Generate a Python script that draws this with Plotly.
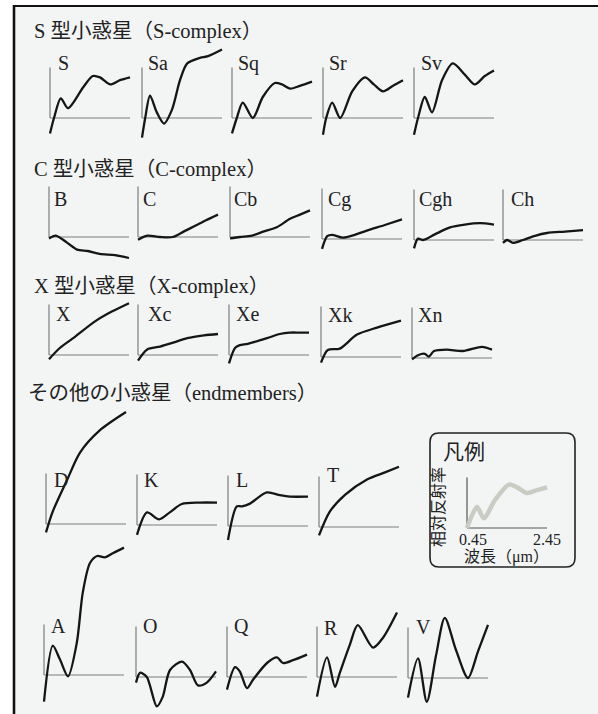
import plotly.graph_objects as go

# ---------------------------------------------------------------------------
# Asteroid reflectance spectra (Bus-DeMeo classes)
# wavelength in µm, reflectance normalised to 1.0 at 0.55 µm
# ---------------------------------------------------------------------------
S_TYPES = ["S", "Sa", "Sq", "Sr", "Sv"]
C_TYPES = ["B", "C", "Cb", "Cg", "Cgh", "Ch"]
X_TYPES = ["X", "Xc", "Xe", "Xk", "Xn"]
END_TYPES_UPPER = ["D", "K", "L", "T"]
END_TYPES_LOWER = ["A", "O", "Q", "R", "V"]

GROUP_TITLES = [
    "S 型小惑星（S-complex）",
    "C 型小惑星（C-complex）",
    "X 型小惑星（X-complex）",
    "その他の小惑星（endmembers）",
]

LEGEND_TITLE = "凡例"
LEGEND_YLABEL = "相対反射率"
LEGEND_XLABEL = "波長（μm）"
LEGEND_TICKS = ["0.45", "2.45"]

WL_MIN, WL_MAX = 0.45, 2.45
AXIS_TOP = 1.36
BASE = 1.0

wl_S = [0.45, 0.55, 0.72, 0.90, 1.28, 1.52, 1.70, 1.95, 2.20, 2.45]
rf_S = [0.89, 1.00, 1.14, 1.07, 1.22, 1.30, 1.29, 1.24, 1.27, 1.29]
wl_Sa = [0.45, 0.53, 0.65, 0.82, 1.00, 1.20, 1.40, 1.58, 1.90, 2.08, 2.45]
rf_Sa = [0.86, 1.00, 1.16, 1.04, 0.96, 1.06, 1.27, 1.39, 1.43, 1.44, 1.49]
wl_Sq = [0.45, 0.57, 0.72, 0.97, 1.22, 1.52, 1.70, 1.90, 2.15, 2.45]
rf_Sq = [0.89, 1.00, 1.11, 1.00, 1.15, 1.25, 1.24, 1.21, 1.23, 1.26]
wl_Sr = [0.45, 0.53, 0.68, 0.88, 1.18, 1.50, 1.72, 1.95, 2.20, 2.45]
rf_Sr = [0.88, 1.00, 1.11, 1.00, 1.19, 1.29, 1.24, 1.19, 1.23, 1.27]
wl_Sv = [0.45, 0.55, 0.72, 0.90, 1.15, 1.42, 1.72, 1.97, 2.22, 2.45]
rf_Sv = [0.88, 1.00, 1.15, 1.04, 1.27, 1.39, 1.31, 1.24, 1.30, 1.34]

wl_B = [0.45, 0.62, 0.90, 1.15, 1.42, 1.72, 2.10, 2.45]
rf_B = [0.99, 1.01, 0.96, 0.91, 0.90, 0.88, 0.87, 0.85]
wl_C = [0.45, 0.68, 1.00, 1.32, 1.60, 1.88, 2.15, 2.45]
rf_C = [0.98, 1.01, 1.00, 1.00, 1.04, 1.08, 1.12, 1.16]
wl_Cb = [0.45, 0.70, 1.00, 1.30, 1.62, 1.95, 2.20, 2.45]
rf_Cb = [0.99, 1.00, 1.01, 1.04, 1.07, 1.13, 1.16, 1.19]
wl_Cg = [0.45, 0.58, 0.70, 0.97, 1.27, 1.57, 2.02, 2.45]
rf_Cg = [0.93, 1.02, 1.03, 1.01, 1.03, 1.06, 1.10, 1.14]
wl_Cgh = [0.45, 0.55, 0.68, 0.97, 1.35, 1.72, 2.10, 2.45]
rf_Cgh = [0.94, 1.01, 1.00, 1.04, 1.09, 1.11, 1.12, 1.11]
wl_Ch = [0.45, 0.55, 0.70, 0.95, 1.25, 1.55, 2.00, 2.45]
rf_Ch = [0.98, 1.00, 0.98, 1.00, 1.03, 1.05, 1.06, 1.07]

wl_X = [0.45, 0.72, 1.10, 1.60, 2.02, 2.45]
rf_X = [0.97, 1.05, 1.13, 1.24, 1.31, 1.37]
wl_Xc = [0.45, 0.68, 1.00, 1.35, 1.68, 2.10, 2.45]
rf_Xc = [0.96, 1.04, 1.06, 1.09, 1.12, 1.14, 1.15]
wl_Xe = [0.45, 0.60, 0.72, 0.92, 1.40, 1.72, 1.97, 2.22, 2.45]
rf_Xe = [0.94, 1.05, 1.07, 1.08, 1.12, 1.15, 1.16, 1.16, 1.16]
wl_Xk = [0.45, 0.62, 0.92, 1.35, 1.85, 2.45]
rf_Xk = [0.96, 1.05, 1.06, 1.16, 1.21, 1.26]
wl_Xn = [0.45, 0.60, 0.77, 0.87, 1.00, 1.32, 1.72, 2.20, 2.45]
rf_Xn = [0.99, 1.02, 1.03, 1.01, 1.05, 1.06, 1.05, 1.08, 1.06]

wl_D = [0.45, 0.62, 0.97, 1.30, 1.80, 2.45]
rf_D = [0.94, 1.09, 1.31, 1.51, 1.67, 1.80]
wl_K = [0.45, 0.70, 1.00, 1.27, 1.57, 2.02, 2.45]
rf_K = [0.93, 1.09, 1.04, 1.09, 1.15, 1.16, 1.16]
wl_L = [0.45, 0.67, 0.80, 1.00, 1.42, 1.75, 2.00, 2.45]
rf_L = [0.90, 1.14, 1.14, 1.16, 1.24, 1.22, 1.21, 1.21]
wl_T = [0.45, 0.72, 1.10, 1.65, 2.10, 2.45]
rf_T = [0.94, 1.11, 1.23, 1.34, 1.39, 1.43]

wl_A = [0.45, 0.67, 0.85, 1.05, 1.27, 1.42, 1.60, 1.78, 1.97, 2.17, 2.45]
rf_A = [0.81, 1.21, 1.11, 0.99, 1.23, 1.59, 1.80, 1.85, 1.84, 1.87, 1.91]
wl_O = [0.45, 0.55, 0.72, 0.97, 1.12, 1.30, 1.60, 1.80, 2.00, 2.22, 2.45]
rf_O = [0.96, 1.03, 1.00, 0.79, 0.86, 1.05, 1.11, 1.05, 0.94, 0.96, 1.04]
wl_Q = [0.45, 0.65, 0.77, 0.95, 1.10, 1.45, 1.70, 1.85, 2.10, 2.45]
rf_Q = [0.91, 1.07, 1.04, 0.92, 0.98, 1.10, 1.14, 1.10, 1.12, 1.16]
wl_R = [0.45, 0.70, 0.90, 1.02, 1.27, 1.47, 1.85, 2.10, 2.45]
rf_R = [0.86, 1.14, 0.93, 1.03, 1.23, 1.37, 1.21, 1.28, 1.46]
wl_V = [0.45, 0.70, 0.92, 1.15, 1.37, 1.65, 1.95, 2.20, 2.45]
rf_V = [0.86, 1.14, 0.83, 1.16, 1.43, 1.20, 1.00, 1.19, 1.38]

# example curve shown inside the key box
wl_key = [0.45, 0.70, 0.87, 1.15, 1.50, 1.70, 1.95, 2.20, 2.45]
rf_key = [1.00, 1.15, 1.07, 1.20, 1.31, 1.29, 1.25, 1.27, 1.29]

SPECTRA = {
    "S": (wl_S, rf_S), "Sa": (wl_Sa, rf_Sa), "Sq": (wl_Sq, rf_Sq),
    "Sr": (wl_Sr, rf_Sr), "Sv": (wl_Sv, rf_Sv),
    "B": (wl_B, rf_B), "C": (wl_C, rf_C), "Cb": (wl_Cb, rf_Cb),
    "Cg": (wl_Cg, rf_Cg), "Cgh": (wl_Cgh, rf_Cgh), "Ch": (wl_Ch, rf_Ch),
    "X": (wl_X, rf_X), "Xc": (wl_Xc, rf_Xc), "Xe": (wl_Xe, rf_Xe),
    "Xk": (wl_Xk, rf_Xk), "Xn": (wl_Xn, rf_Xn),
    "D": (wl_D, rf_D), "K": (wl_K, rf_K), "L": (wl_L, rf_L), "T": (wl_T, rf_T),
    "A": (wl_A, rf_A), "O": (wl_O, rf_O), "Q": (wl_Q, rf_Q),
    "R": (wl_R, rf_R), "V": (wl_V, rf_V),
}

# ---------------------------------------------------------------------------
# Page layout (pixels): axis origin of each small panel and its label spot
# ---------------------------------------------------------------------------
W, H = 598, 714
PX_PER_UM = 40.0      # horizontal scale
PX_PER_UNIT = 140.0   # vertical scale (per unit of relative reflectance)

ORIGIN = {
    "S": (50, 118), "Sa": (142, 118), "Sq": (232, 118), "Sr": (323, 118), "Sv": (414, 118),
    "B": (49, 237), "C": (138, 237), "Cb": (230, 237), "Cg": (322, 239), "Cgh": (414, 240), "Ch": (503, 240),
    "X": (49, 355), "Xc": (138, 355), "Xe": (229, 355), "Xk": (321, 357), "Xn": (412, 358),
    "D": (46, 524), "K": (137, 525), "L": (228, 526), "T": (319, 527),
    "A": (44, 675), "O": (136, 677), "Q": (227, 677), "R": (317, 677), "V": (408, 678),
}
LABEL_AT = {
    "S": (56, 63), "Sa": (146, 63), "Sq": (236, 63), "Sr": (327, 63), "Sv": (419, 63),
    "B": (52, 199), "C": (141, 199), "Cb": (232, 199), "Cg": (326, 199), "Cgh": (417, 199), "Ch": (509, 199),
    "X": (54, 314), "Xc": (146, 314), "Xe": (234, 314), "Xk": (326, 315), "Xn": (416, 315),
    "D": (52, 480), "K": (142, 480), "L": (234, 480), "T": (325, 475),
    "A": (49, 626), "O": (141, 626), "Q": (232, 626), "R": (322, 628), "V": (414, 627),
}
TITLE_AT = [(32, 32), (32, 169), (32, 286), (26, 393)]
KEY_ORIGIN = (467, 528)
KEY_BOX = (430, 433, 575, 567)

SERIF = "Liberation Serif, Noto Sans CJK JP, serif"
CJK = "Noto Sans CJK JP, sans-serif"
INK = "#151515"
AXIS_GREY = "#7c7c7c"


def px(xp):
    return xp / W


def py(yp):
    return 1 - yp / H


fig = go.Figure()
layout = {}
shapes = []
annotations = []

# page background and the printed frame
shapes.append(dict(type="rect", xref="paper", yref="paper", x0=px(14), x1=1, y0=0, y1=py(6),
                   fillcolor="#f3f5f5", line=dict(width=0), layer="below"))
shapes.append(dict(type="line", xref="paper", yref="paper", x0=px(14), x1=px(14), y0=0, y1=py(5),
                   line=dict(color="#111111", width=2.6), layer="above"))
shapes.append(dict(type="line", xref="paper", yref="paper", x0=px(13), x1=1, y0=py(6), y1=py(6),
                   line=dict(color="#111111", width=2.2), layer="above"))


def add_panel(idx, origin, wl, rf, color, width, axis_color, axis_width):
    x0, yb = origin
    left, right = x0 - 6, x0 + 80 + 8
    top, bottom = max(0, yb - 140), min(H, yb + 40)
    xr = [WL_MIN - (x0 - left) / PX_PER_UM, WL_MAX + (right - x0 - 80) / PX_PER_UM]
    yr = [BASE - (bottom - yb) / PX_PER_UNIT, BASE + (yb - top) / PX_PER_UNIT]
    sx = "" if idx == 1 else str(idx)
    layout["xaxis" + sx] = dict(domain=[px(left), px(right)], range=xr, visible=False,
                                fixedrange=True, anchor="y" + sx)
    layout["yaxis" + sx] = dict(domain=[py(bottom), py(top)], range=yr, visible=False,
                                fixedrange=True, anchor="x" + sx)
    xref, yref = "x" + sx, "y" + sx
    shapes.append(dict(type="line", xref=xref, yref=yref, x0=WL_MIN, x1=WL_MIN, y0=BASE, y1=AXIS_TOP,
                       line=dict(color=axis_color, width=axis_width), layer="below"))
    shapes.append(dict(type="line", xref=xref, yref=yref, x0=WL_MIN, x1=WL_MAX, y0=BASE, y1=BASE,
                       line=dict(color=axis_color, width=axis_width), layer="below"))
    fig.add_trace(go.Scatter(x=wl, y=rf, xaxis=xref, yaxis=yref, mode="lines",
                             line=dict(color=color, width=width, shape="spline", smoothing=0.8),
                             hoverinfo="skip", showlegend=False))


all_types = S_TYPES + C_TYPES + X_TYPES + END_TYPES_UPPER + END_TYPES_LOWER
for i, name in enumerate(all_types, start=1):
    wl, rf = SPECTRA[name]
    add_panel(i, ORIGIN[name], wl, rf, INK, 2.3, AXIS_GREY, 1.2)
    lx, ly = LABEL_AT[name]
    annotations.append(dict(text=name, xref="paper", yref="paper", x=px(lx), y=py(ly),
                            xanchor="left", yanchor="middle", showarrow=False,
                            font=dict(family=SERIF, size=20, color="#222222")))

for title, (tx, ty) in zip(GROUP_TITLES, TITLE_AT):
    annotations.append(dict(text=title, xref="paper", yref="paper", x=px(tx), y=py(ty),
                            xanchor="left", yanchor="middle", showarrow=False,
                            font=dict(family=SERIF, size=20.5, color="#222222")))

# key box
bx0, by0, bx1, by1 = KEY_BOX
rad = 9
path = (
    f"M {px(bx0 + rad)} {py(by0)} L {px(bx1 - rad)} {py(by0)} "
    f"Q {px(bx1)} {py(by0)} {px(bx1)} {py(by0 + rad)} "
    f"L {px(bx1)} {py(by1 - rad)} Q {px(bx1)} {py(by1)} {px(bx1 - rad)} {py(by1)} "
    f"L {px(bx0 + rad)} {py(by1)} Q {px(bx0)} {py(by1)} {px(bx0)} {py(by1 - rad)} "
    f"L {px(bx0)} {py(by0 + rad)} Q {px(bx0)} {py(by0)} {px(bx0 + rad)} {py(by0)} Z"
)
shapes.append(dict(type="path", xref="paper", yref="paper", path=path,
                   line=dict(color="#222222", width=1.6), fillcolor="rgba(0,0,0,0)", layer="above"))

add_panel(len(all_types) + 1, KEY_ORIGIN, wl_key, rf_key, "#c8ccc2", 4.5, "#555555", 1.2)

annotations += [
    dict(text=LEGEND_TITLE, x=px(441), y=py(450), xanchor="left", yanchor="middle",
         font=dict(family=CJK, size=21, color="#222222")),
    dict(text=LEGEND_YLABEL, x=px(437), y=py(507), xanchor="center", yanchor="middle", textangle=-90,
         font=dict(family=CJK, size=16, color="#222222")),
    dict(text=LEGEND_TICKS[0], x=px(473), y=py(539), xanchor="center", yanchor="middle",
         font=dict(family=SERIF, size=16, color="#222222")),
    dict(text=LEGEND_TICKS[1], x=px(547), y=py(539), xanchor="center", yanchor="middle",
         font=dict(family=SERIF, size=16, color="#222222")),
    dict(text=LEGEND_XLABEL, x=px(506), y=py(557), xanchor="center", yanchor="middle",
         font=dict(family=SERIF, size=16, color="#222222")),
]
for a in annotations[-5:]:
    a.update(xref="paper", yref="paper", showarrow=False)

fig.update_layout(
    width=W, height=H, autosize=False,
    margin=dict(l=0, r=0, t=0, b=0),
    paper_bgcolor="#ffffff", plot_bgcolor="rgba(0,0,0,0)",
    showlegend=False, shapes=shapes, annotations=annotations,
    **layout,
)

fig.write_html("out.html", config={"displayModeBar": False})
